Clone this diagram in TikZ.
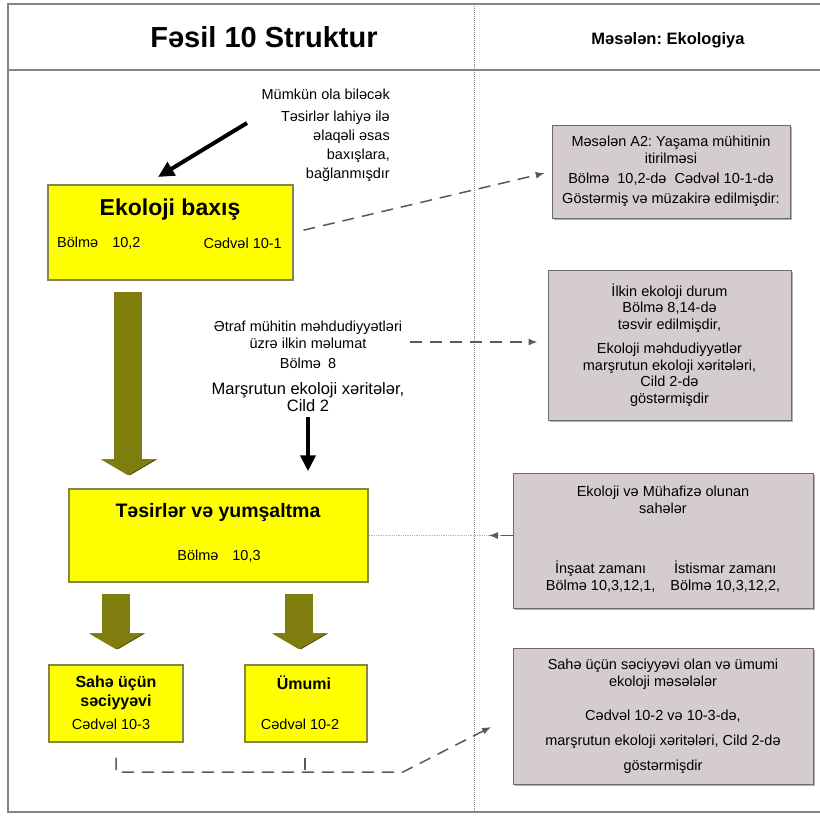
\documentclass[tikz,border=0pt]{standalone}
\usepackage{fontspec}
\setmainfont{Liberation Sans}
\usetikzlibrary{shapes,positioning,calc,arrows.meta,shadows}
\definecolor{boxyellow}{rgb}{1,1,0}
\definecolor{boxedge}{rgb}{0.52,0.52,0.32}
\definecolor{notegray}{rgb}{0.83,0.80,0.82}
\definecolor{noteedge}{rgb}{0.42,0.42,0.42}
\definecolor{bigolive}{rgb}{0.50,0.49,0.06}
\definecolor{bigshade}{rgb}{0.30,0.29,0.02}
\definecolor{framegray}{rgb}{0.52,0.52,0.52}
\definecolor{linkgray}{rgb}{0.35,0.35,0.35}
\newcommand{\bodyfont}{\fontsize{14.5}{17}\selectfont}
\frenchspacing

\begin{document}
\begin{tikzpicture}
  [x=1pt,y=-1pt,
   every node/.style={font=\bodyfont},
   ybox/.style={rectangle,draw=boxedge,fill=boxyellow,line width=1.5pt},
   gbox/.style={rectangle,draw=noteedge,fill=notegray,line width=1pt,align=center,
     drop shadow={shadow xshift=2pt,shadow yshift=-2pt,fill=black!60}},
   bighead/.style={font=\bfseries\fontsize{23}{27}\selectfont,inner sep=0pt},
   midhead/.style={font=\bfseries\fontsize{19.5}{23}\selectfont,inner sep=0pt},
   smallhead/.style={font=\bfseries\fontsize{16}{19}\selectfont,inner sep=0pt,align=center},
   plain/.style={inner sep=0pt},
   olivearrow/.style={line width=28pt,bigolive,-{Triangle[width=54pt,length=16pt]},
     preaction={draw=bigshade,transform canvas={xshift=2pt}}},
   blackarrow/.style={line width=4pt,-{Triangle[width=15pt,length=16pt]}},
   dashlink/.style={draw=linkgray,line width=1.5pt,dash pattern=on 12pt off 8pt},
   linktip/.style={-{Latex[length=9pt,width=7pt]}}]

  \useasboundingbox (0,0) rectangle (820,816);

  % frame and column divider
  \draw[framegray,line width=2.5pt] (820,4) -- (8,4) -- (8,812) -- (820,812);
  \draw[framegray,line width=2.5pt] (8,70) -- (820,70);
  \draw[framegray,line width=1pt,densely dotted] (474,4) -- (474,812);

  \node[font=\bfseries\fontsize{29}{34}\selectfont] (title) at (264,37) {Fəsil 10 Struktur};
  \node[font=\bfseries\fontsize{16.5}{20}\selectfont] (example) at (668,40) {Məsələn: Ekologiya};

  % left column: yellow boxes
  \node[ybox,minimum width=245pt,minimum height=95pt] (eko) at (170.5,232.5) {};
  \node[bighead] (ekoHead) at (170,210) {Ekoloji baxış};
  \node[plain,anchor=west] (ekoSec) at (57,243) {Bölmə\hspace{14pt}10,2};
  \node[plain,anchor=east] (ekoTab) at (282,243) {Cədvəl 10-1};

  \node[ybox,minimum width=299pt,minimum height=93pt] (tesir) at (218.5,535.5) {};
  \node[midhead] (tesirHead) at (218,512) {Təsirlər və yumşaltma};
  \node[plain] (tesirSec) at (219,556) {Bölmə\hspace{14pt}10,3};

  \node[ybox,minimum width=134pt,minimum height=77pt] (site) at (116,703.5) {};
  \node[smallhead] (siteHead) at (116,692.5) {Sahə üçün\\ səciyyəvi};
  \node[plain] (siteTab) at (111,724) {Cədvəl 10-3};

  \node[ybox,minimum width=122pt,minimum height=77pt] (common) at (306,703.5) {};
  \node[smallhead] (commonHead) at (304,683) {Ümumi};
  \node[plain] (commonTab) at (300,724) {Cədvəl 10-2};

  % free text
  \node[plain,align=right,anchor=north east,font=\fontsize{14.5}{19}\selectfont] (impacts) at (390,89)
    {Mümkün ola biləcək\\[3pt] Təsirlər lahiyə ilə\\ əlaqəli əsas\\ baxışlara,\\ bağlanmışdır};
  \node[plain,align=center,anchor=north] (initial) at (308,321)
    {Ətraf mühitin məhdudiyyətləri\\ üzrə ilkin məlumat\\[3pt] Bölmə\hspace{7pt}8\\[9pt]
     {\fontsize{16.5}{17}\selectfont Marşrutun ekoloji xəritələr,}\\ {\fontsize{16.5}{17}\selectfont Cild 2}};

  % right column: grey notes
  \node[gbox,minimum width=238pt,minimum height=93pt] (lossNote) at (671,171.5)
    {Məsələn A2: Yaşama mühitinin\\ itirilməsi\\[3pt] Bölmə\hspace{8pt}10,2-də\hspace{8pt}Cədvəl 10-1-də\\[3pt]
     Göstərmiş və müzakirə edilmişdir:};
  \node[gbox,minimum width=243pt,minimum height=150pt,font=\fontsize{14.5}{16.5}\selectfont] (stateNote) at (669.5,345)
    {İlkin ekoloji durum\\ Bölmə 8,14-də\\ təsvir edilmişdir,\\[8pt] Ekoloji məhdudiyyətlər\\
     marşrutun ekoloji xəritələri,\\ Cild 2-də\\ göstərmişdir};
  \node[gbox,minimum width=300pt,minimum height=135pt] (areaNote) at (663,540.5)
    {Ekoloji və Mühafizə olunan\\ sahələr\\[43pt]
     \begin{tabular}[t]{@{}c@{\hspace{15pt}}c@{}}İnşaat zamanı & İstismar zamanı\\ Bölmə 10,3,12,1, & Bölmə 10,3,12,2,\end{tabular}};
  \node[gbox,minimum width=300pt,minimum height=136pt] (issueNote) at (663,716)
    {Sahə üçün səciyyəvi olan və ümumi\\ ekoloji məsələlər\\[17pt] Cədvəl 10-2 və 10-3-də,\\[8pt]
     marşrutun ekoloji xəritələri, Cild 2-də\\[8pt] göstərmişdir};

  % olive flow arrows
  \coordinate (flowTop) at (128,280);
  \coordinate (commonIn) at ($(common.north)+(-7,0)$);
  \draw[olivearrow,shorten <=12pt,shorten >=13pt] (flowTop) -- (flowTop |- tesir.north);
  \draw[olivearrow,shorten <=11pt,shorten >=15pt] (site.north |- tesir.south) -- (site.north);
  \draw[olivearrow,shorten <=11pt,shorten >=15pt] (commonIn |- tesir.south) -- (commonIn);

  % black pointers
  \coordinate (noteTail) at (247,123);
  \coordinate (ekoTip) at (158,177);
  \draw[blackarrow] (noteTail) -- (ekoTip);
  \draw[blackarrow,shorten <=5pt,shorten >=17pt] (initial.south) -- (initial.south |- tesir.north);

  % dashed references
  \draw[dashlink,linktip,shorten <=10pt,shorten >=7pt] (eko.east) -- (lossNote.west);
  \coordinate (initialOut) at (410,342);
  \draw[dashlink,linktip,shorten >=10pt] (initialOut) -- (initialOut -| stateNote.west);
  \draw[linkgray!45,line width=0.8pt,densely dotted] (tesir.east) -- (areaNote.west |- tesir.east);
  \draw[dashlink,linktip,shorten >=120pt] (areaNote.west |- tesir.east) -- (tesir.east);
  \coordinate (bend) at (403,772);
  \draw[dashlink,linktip,shorten >=24pt] ($(site.south)+(0,15)$) |- (bend) -- (issueNote.west);
  \draw[dashlink] ($(common.south)+(-1,15)$) -- ($(common.south)+(-1,29)$);

\end{tikzpicture}
\end{document}
